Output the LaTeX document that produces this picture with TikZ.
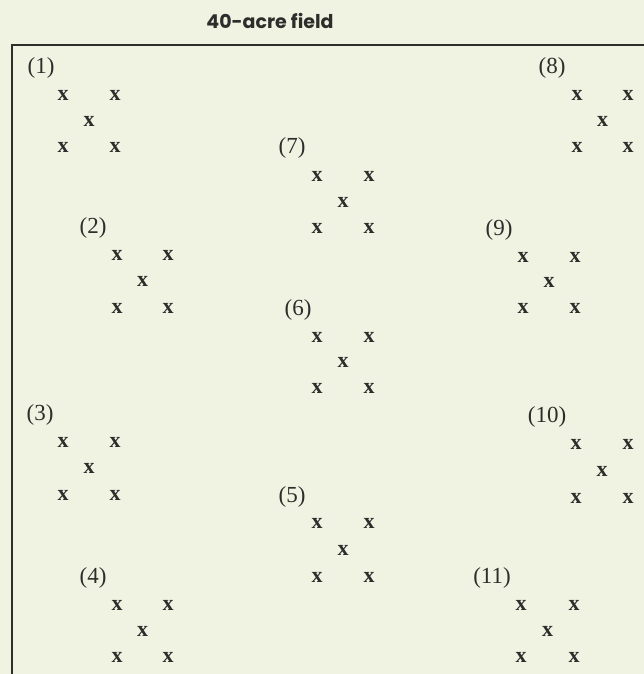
\documentclass[tikz,border=0pt]{standalone}
\usepackage{fontspec}
\newfontfamily\titlefont{Poppins}
\newfontfamily\labelfont{Liberation Serif}
\definecolor{paper}{RGB}{241,243,226}
\definecolor{ink}{RGB}{45,45,43}
\newcommand{\plotgroup}[8]{%
  \node[lbl] (#1l) at (#3,#4) {#2};
  \node[mk] (#1a) at (#5,#7) {x};
  \node[mk] (#1b) at (#6,#7) {x};
  \node[mk] (#1c) at ({(#5+#6)/2},{(#7+#8)/2}) {x};
  \node[mk] (#1d) at (#5,#8) {x};
  \node[mk] (#1e) at (#6,#8) {x};
}
\begin{document}
\begin{tikzpicture}[x=1pt,y=-1pt,
  lbl/.style={inner sep=0pt,text=ink,font=\labelfont\fontsize{23}{23}\selectfont},
  mk/.style={inner sep=0pt,text=ink,font=\labelfont\bfseries\fontsize{22}{22}\selectfont},
  frame/.style={draw=ink,line width=1.6pt},
  titlestyle/.style={inner sep=0pt,text=ink,font=\titlefont\bfseries\fontsize{19}{19}\selectfont}]
\fill[paper] (0,0) rectangle (644,674);
\useasboundingbox (0,0) rectangle (644,674);
\node[titlestyle] (title) at (270,21) {40-acre field};
\coordinate (tr) at (644,45);
\coordinate (tl) at (12,45);
\coordinate (bl) at (12,674);
\draw[frame] (tr) -- (tl) -- (bl);
\plotgroup{g1}{(1)}{41}{68}{63}{115}{95}{147}
\plotgroup{g8}{(8)}{552}{68}{577}{628}{95}{147}
\plotgroup{g7}{(7)}{292}{148}{317}{369}{176}{228}
\plotgroup{g2}{(2)}{93}{228}{117}{168}{255}{308}
\plotgroup{g9}{(9)}{499}{230}{523}{575}{257}{308}
\plotgroup{g6}{(6)}{298}{310}{317}{369}{337}{388}
\plotgroup{g3}{(3)}{40}{415}{63}{115}{442}{495}
\plotgroup{g10}{(10)}{547}{417}{576}{628}{444}{498}
\plotgroup{g5}{(5)}{292}{497}{317}{369}{523}{577}
\plotgroup{g4}{(4)}{93}{578}{117}{168}{605}{657}
\plotgroup{g11}{(11)}{492}{578}{521}{574}{605}{657}
\end{tikzpicture}
\end{document}
